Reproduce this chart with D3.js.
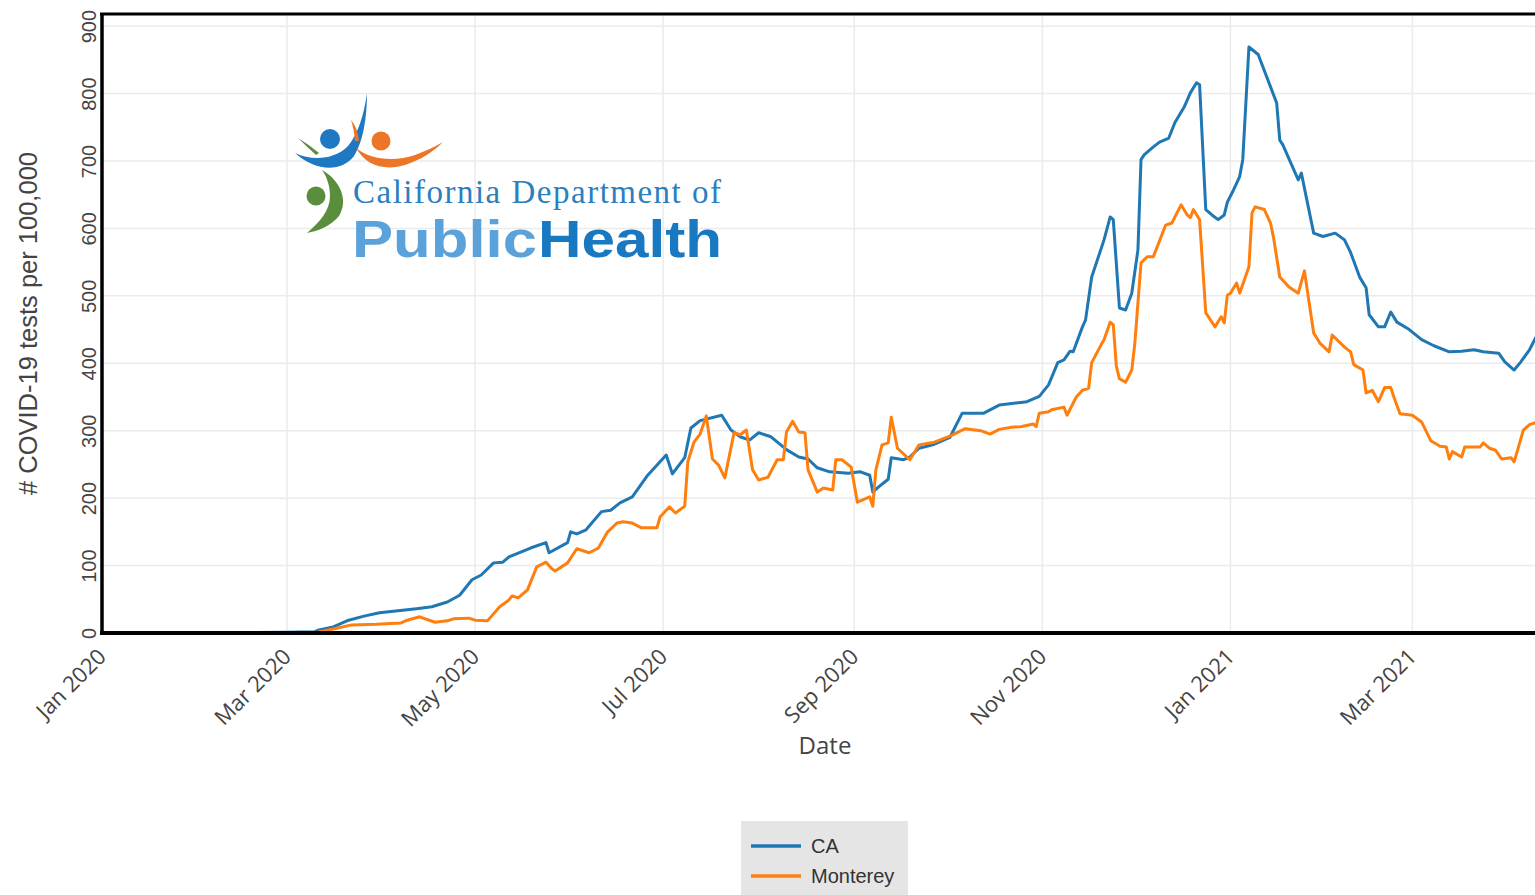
<!DOCTYPE html>
<html>
<head>
<meta charset="utf-8">
<script src="https://cdn.jsdelivr.net/npm/d3@7/dist/d3.min.js"></script>
<style>
  body { margin: 0; overflow: hidden; background: #fff; }
</style>
</head>
<body>
<svg id="chart"></svg>
<script>
// values (tests per 100,000, 7-day avg)
const caDates = [
  "2020-01-01","2020-03-01","2020-03-10","2020-03-11","2020-03-16","2020-03-21","2020-03-26","2020-03-31",
  "2020-04-06","2020-04-12","2020-04-17","2020-04-22","2020-04-26","2020-04-30","2020-05-03","2020-05-07",
  "2020-05-10","2020-05-12","2020-05-19","2020-05-24","2020-05-25","2020-05-31","2020-06-01","2020-06-03",
  "2020-06-06","2020-06-11","2020-06-14","2020-06-17","2020-06-21","2020-06-26","2020-07-02","2020-07-04",
  "2020-07-08","2020-07-10","2020-07-13","2020-07-20","2020-07-23","2020-07-26","2020-07-29","2020-08-01",
  "2020-08-05","2020-08-10","2020-08-14","2020-08-17","2020-08-20","2020-08-24","2020-08-30","2020-09-03",
  "2020-09-06","2020-09-07","2020-09-09","2020-09-12","2020-09-13","2020-09-17","2020-09-19","2020-09-22",
  "2020-09-27","2020-10-02","2020-10-06","2020-10-13","2020-10-18","2020-10-25","2020-10-27","2020-10-31",
  "2020-11-03","2020-11-06","2020-11-08","2020-11-10","2020-11-11","2020-11-14","2020-11-15","2020-11-17",
  "2020-11-21","2020-11-23","2020-11-24","2020-11-26","2020-11-28","2020-11-30","2020-12-02","2020-12-03",
  "2020-12-04","2020-12-07","2020-12-09","2020-12-12","2020-12-14","2020-12-17","2020-12-19","2020-12-21",
  "2020-12-22","2020-12-24","2020-12-26","2020-12-28","2020-12-30","2020-12-31","2021-01-02","2021-01-04",
  "2021-01-05","2021-01-07","2021-01-10","2021-01-16","2021-01-17","2021-01-18","2021-01-23","2021-01-24",
  "2021-01-28","2021-01-31","2021-02-04","2021-02-07","2021-02-09","2021-02-12","2021-02-14","2021-02-15",
  "2021-02-18","2021-02-20","2021-02-22","2021-02-24","2021-02-28","2021-03-04","2021-03-08","2021-03-13",
  "2021-03-17","2021-03-21","2021-03-24","2021-03-29","2021-03-31","2021-04-03","2021-04-05","2021-04-08",
  "2021-04-10","2021-04-13"
];
const caValues = [
  0, 1, 2, 4, 9, 19, 25, 30,
  33, 36, 39, 46, 56, 79, 86, 104,
  105, 113, 126, 134, 119, 134, 150, 147,
  153, 180, 182, 193, 202, 234, 264, 236,
  260, 304, 315, 323, 301, 291, 286, 297,
  291, 272, 261, 258, 245, 239, 237, 239,
  234, 209, 217, 228, 260, 257, 261, 274,
  280, 290, 326, 326, 338, 342, 343, 351,
  368, 401, 405, 418, 417, 454, 464, 528,
  583, 617, 613, 482, 479, 504, 568, 702,
  709, 721, 728, 734, 757, 780, 801, 816,
  813, 628, 620, 613, 620, 639, 657, 677,
  702, 869, 858, 786, 731, 724, 672, 682,
  593, 588, 593, 583, 564, 527, 512, 472,
  454, 454, 476, 461, 450, 435, 426, 417,
  418, 420, 417, 415, 402, 390, 401, 420,
  438, 452
];

const mtyDates = [
  "2020-01-01","2020-03-01","2020-03-11","2020-03-16","2020-03-22","2020-03-30","2020-04-07","2020-04-09",
  "2020-04-13","2020-04-18","2020-04-22","2020-04-24","2020-04-29","2020-05-01","2020-05-05","2020-05-09",
  "2020-05-12","2020-05-13","2020-05-15","2020-05-18","2020-05-21","2020-05-24","2020-05-26","2020-05-27",
  "2020-05-31","2020-06-03","2020-06-07","2020-06-10","2020-06-13","2020-06-16","2020-06-18","2020-06-21",
  "2020-06-24","2020-06-29","2020-06-30","2020-07-03","2020-07-05","2020-07-08","2020-07-09","2020-07-11",
  "2020-07-13","2020-07-15","2020-07-17","2020-07-19","2020-07-21","2020-07-24","2020-07-26","2020-07-28",
  "2020-07-30","2020-08-01","2020-08-04","2020-08-07","2020-08-09","2020-08-10","2020-08-12","2020-08-14",
  "2020-08-16","2020-08-17","2020-08-20","2020-08-22","2020-08-25","2020-08-26","2020-08-28","2020-08-31",
  "2020-09-02","2020-09-06","2020-09-07","2020-09-08","2020-09-10","2020-09-12","2020-09-13","2020-09-15",
  "2020-09-19","2020-09-22","2020-09-27","2020-10-02","2020-10-07","2020-10-12","2020-10-15","2020-10-18",
  "2020-10-22","2020-10-25","2020-10-29","2020-10-30","2020-10-31","2020-11-03","2020-11-04","2020-11-08",
  "2020-11-09","2020-11-12","2020-11-14","2020-11-16","2020-11-17","2020-11-20","2020-11-21","2020-11-23",
  "2020-11-24","2020-11-25","2020-11-26","2020-11-28","2020-11-30","2020-12-01","2020-12-03","2020-12-05",
  "2020-12-07","2020-12-11","2020-12-13","2020-12-16","2020-12-18","2020-12-19","2020-12-20","2020-12-22",
  "2020-12-24","2020-12-27","2020-12-29","2020-12-30","2020-12-31","2021-01-01","2021-01-03","2021-01-04",
  "2021-01-07","2021-01-08","2021-01-09","2021-01-12","2021-01-14","2021-01-15","2021-01-17","2021-01-20",
  "2021-01-23","2021-01-25","2021-01-28","2021-01-30","2021-02-02","2021-02-03","2021-02-07","2021-02-09",
  "2021-02-10","2021-02-13","2021-02-14","2021-02-16","2021-02-18","2021-02-20","2021-02-22","2021-02-23",
  "2021-02-25","2021-03-01","2021-03-04","2021-03-07","2021-03-10","2021-03-12","2021-03-13","2021-03-14",
  "2021-03-17","2021-03-18","2021-03-23","2021-03-24","2021-03-26","2021-03-28","2021-03-30","2021-04-02",
  "2021-04-03","2021-04-04","2021-04-06","2021-04-08","2021-04-10","2021-04-13"
];
const mtyValues = [
  0, 0, 1, 6, 12, 13, 15, 19,
  24, 16, 18, 21, 22, 19, 18, 39,
  49, 55, 52, 64, 98, 105, 95, 92,
  104, 125, 119, 126, 150, 163, 165, 163,
  156, 156, 172, 187, 178, 188, 254, 283,
  295, 322, 258, 249, 230, 297, 294, 301,
  242, 227, 231, 257, 257, 298, 314, 298,
  297, 242, 209, 215, 212, 257, 257, 246,
  194, 202, 188, 242, 279, 282, 320, 274,
  257, 279, 283, 292, 303, 300, 295, 302,
  305, 306, 310, 306, 326, 328, 331, 335,
  323, 350, 360, 363, 401, 427, 435, 461,
  457, 396, 377, 372, 390, 430, 549, 558,
  558, 605, 608, 635, 620, 616, 628, 613,
  475, 454, 469, 460, 501, 504, 519, 504,
  543, 623, 632, 628, 608, 586, 528, 513,
  504, 537, 445, 430, 417, 442, 424, 417,
  398, 390, 356, 360, 343, 364, 364, 350,
  325, 323, 313, 285, 277, 276, 258, 269,
  261, 276, 276, 282, 274, 271, 258, 260,
  254, 269, 301, 309, 312, 315
];

const seriesNames = ["CA", "Monterey"];
const seriesColors = ["#1f77b4", "#ff7f0e"];
const yTicks = [0, 100, 200, 300, 400, 500, 600, 700, 800, 900];
const xStart = "2020-01-01", xEnd = "2021-04-14";

const width = 1535, height = 895;
const plotLeft = 102, plotRight = 1548, plotTop = 14, plotBottom = 633;

const parse = d3.timeParse("%Y-%m-%d");
const toPoints = (dates, values) => dates.map((d, i) => ({ date: parse(d), value: values[i] }));
const series = [toPoints(caDates, caValues), toPoints(mtyDates, mtyValues)];

const xScale = d3.scaleTime()
  .domain([parse(xStart), parse(xEnd)])
  .range([plotLeft, plotRight]);

const yScale = d3.scaleLinear()
  .domain([0, 918])
  .range([plotBottom, plotTop]);

const xTicks = xScale.ticks(d3.timeMonth.every(2));

let svg = d3.select("#chart")
  .attr("width", width)
  .attr("height", height);

svg.append("defs")
  .append("clipPath")
  .attr("id", "plot-clip")
  .append("rect")
  .attr("x", plotLeft)
  .attr("y", plotTop)
  .attr("width", plotRight - plotLeft)
  .attr("height", plotBottom - plotTop);

// grid
let grid = svg.append("g").attr("class", "grid");

grid.selectAll("line.h")
  .data(yTicks)
  .enter()
  .append("line")
  .attr("class", "h")
  .attr("x1", plotLeft)
  .attr("x2", plotRight)
  .attr("y1", d => yScale(d))
  .attr("y2", d => yScale(d))
  .style("stroke", "#ebebeb")
  .style("stroke-width", 1.5);

grid.selectAll("line.v")
  .data(xTicks)
  .enter()
  .append("line")
  .attr("class", "v")
  .attr("x1", d => xScale(d))
  .attr("x2", d => xScale(d))
  .attr("y1", plotTop)
  .attr("y2", plotBottom)
  .style("stroke", "#ebebeb")
  .style("stroke-width", 1.5);

// CDPH logo
let logo = svg.append("g").attr("class", "logo");

logo.append("path")
  .attr("d", "M295,153 C312,161 334,160 348,146 C358,134 364,115 367,93 C367,118 363,142 354,156 C342,172 316,172 295,153 Z")
  .style("fill", "#1e78c2");
logo.append("circle").attr("cx", 330).attr("cy", 139).attr("r", 10).style("fill", "#1e78c2");

logo.append("path")
  .attr("d", "M356,148 C370,160 395,162 415,155 C425,151 435,147 443,142 C432,153 420,160 405,165 C385,171 366,166 356,148 Z")
  .style("fill", "#ec7527");
logo.append("path")
  .attr("d", "M351,120 Q358,128 359,141 L355,141 Q354,129 351,120 Z")
  .style("fill", "#ec7527");
logo.append("circle").attr("cx", 381).attr("cy", 141).attr("r", 9.5).style("fill", "#ec7527");

logo.append("path")
  .attr("d", "M322,170 C340,180 349,200 339,216 C331,226 318,231 307,233 C320,222 330,210 330,196 C330,186 327,177 322,170 Z")
  .style("fill", "#5a8e3c");
logo.append("path")
  .attr("d", "M298,138 Q308,144 319,153 L316,155 Q306,146 298,138 Z")
  .style("fill", "#5a8e3c");
logo.append("circle").attr("cx", 316).attr("cy", 196).attr("r", 9.5).style("fill", "#5a8e3c");

logo.append("text")
  .attr("x", 353)
  .attr("y", 203)
  .attr("textLength", 368)
  .attr("lengthAdjust", "spacing")
  .text("California Department of")
  .style("font-family", "'Liberation Serif', serif")
  .style("font-size", "33px")
  .style("fill", "#2b7fc1");

logo.append("text")
  .attr("x", 352)
  .attr("y", 257)
  .attr("textLength", 185)
  .attr("lengthAdjust", "spacingAndGlyphs")
  .text("Public")
  .style("font-family", "'Liberation Sans', Arial, sans-serif")
  .style("font-weight", "bold")
  .style("font-size", "52px")
  .style("fill", "#5ba2da");

logo.append("text")
  .attr("x", 538)
  .attr("y", 257)
  .attr("textLength", 184)
  .attr("lengthAdjust", "spacingAndGlyphs")
  .text("Health")
  .style("font-family", "'Liberation Sans', Arial, sans-serif")
  .style("font-weight", "bold")
  .style("font-size", "52px")
  .style("fill", "#1878c1");

// series lines
const line = d3.line()
  .x(d => xScale(d.date))
  .y(d => yScale(d.value));

svg.append("g")
  .attr("class", "lines")
  .attr("clip-path", "url(#plot-clip)")
  .selectAll("path")
  .data(series)
  .enter()
  .append("path")
  .attr("d", line)
  .style("fill", "none")
  .style("stroke", (d, i) => seriesColors[i])
  .style("stroke-width", 3)
  .style("stroke-linejoin", "round");

// frame
let frame = svg.append("g").attr("class", "frame");
frame.append("line")
  .attr("x1", plotLeft - 2).attr("x2", plotRight)
  .attr("y1", plotTop).attr("y2", plotTop)
  .style("stroke", "#000").style("stroke-width", 3);
frame.append("line")
  .attr("x1", plotLeft).attr("x2", plotLeft)
  .attr("y1", plotTop).attr("y2", plotBottom)
  .style("stroke", "#000").style("stroke-width", 3.5);
frame.append("line")
  .attr("x1", plotLeft - 2).attr("x2", plotRight)
  .attr("y1", plotBottom).attr("y2", plotBottom)
  .style("stroke", "#000").style("stroke-width", 4);

// axes
const xAxis = d3.axisBottom(xScale)
  .tickValues(xTicks)
  .tickFormat(d3.timeFormat("%b %Y"))
  .tickSize(0);

svg.append("g")
  .attr("class", "x axis")
  .attr("transform", "translate(0," + plotBottom + ")")
  .call(xAxis);

svg.select(".x.axis .domain").remove();
svg.select(".x.axis")
  .selectAll("text")
  .attr("x", 0)
  .attr("y", 0)
  .attr("dy", 0)
  .attr("transform", "translate(5,25) rotate(-45)")
  .attr("text-anchor", "end")
  .style("fill", "#444")
  .style("font-size", "22px")
  .style("font-family", "'Open Sans', sans-serif");

const yAxis = d3.axisLeft(yScale)
  .tickValues(yTicks)
  .tickSize(0);

svg.append("g")
  .attr("class", "y axis")
  .attr("transform", "translate(" + plotLeft + ",0)")
  .call(yAxis);

svg.select(".y.axis .domain").remove();
svg.select(".y.axis")
  .selectAll("text")
  .attr("x", 0)
  .attr("y", 0)
  .attr("dy", 0)
  .attr("transform", "translate(-6,0) rotate(-90)")
  .attr("text-anchor", "middle")
  .style("fill", "#444")
  .style("font-size", "20px")
  .style("font-family", "'Liberation Sans', Arial, sans-serif");

svg.append("text")
  .attr("text-anchor", "middle")
  .attr("x", (plotLeft + plotRight) / 2)
  .attr("y", 754)
  .text("Date")
  .style("fill", "#444")
  .style("font-size", "24px")
  .style("font-family", "'Open Sans', sans-serif");

svg.append("text")
  .attr("text-anchor", "middle")
  .attr("transform", "translate(37," + ((plotTop + plotBottom) / 2) + ") rotate(-90)")
  .text("# COVID-19 tests per 100,000")
  .style("fill", "#444")
  .style("font-size", "25.5px")
  .style("font-family", "'Liberation Sans', Arial, sans-serif");

// legend
let legend = svg.append("g")
  .attr("class", "legend")
  .attr("transform", "translate(741,821)");

legend.append("rect")
  .attr("width", 167)
  .attr("height", 80)
  .style("fill", "#e5e5e5");

let items = legend.selectAll("g.item")
  .data(seriesNames)
  .enter()
  .append("g")
  .attr("class", "item")
  .attr("transform", (d, i) => "translate(0," + (25 + i * 30) + ")");

items.append("line")
  .attr("x1", 10)
  .attr("x2", 60)
  .style("stroke", (d, i) => seriesColors[i])
  .style("stroke-width", 3.5);

items.append("text")
  .attr("x", 70)
  .attr("dy", "0.35em")
  .text(d => d)
  .style("fill", "#333")
  .style("font-size", "20px")
  .style("font-family", "'Liberation Sans', Arial, sans-serif");
</script>
</body>
</html>
